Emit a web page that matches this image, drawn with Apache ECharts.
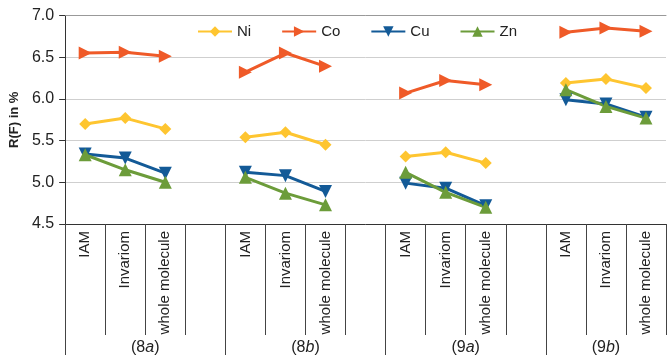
<!DOCTYPE html>
<html>
<head>
<meta charset="utf-8">
<script src="https://cdn.jsdelivr.net/npm/echarts@6/dist/echarts.min.js"></script>
<style>html,body{margin:0;padding:0;background:#fff;}#c{width:669px;height:359px;}</style>
</head>
<body>
<div id="c"></div>
<script>
const categories = ['IAM','Invariom','whole molecule','', 'IAM','Invariom','whole molecule','', 'IAM','Invariom','whole molecule','', 'IAM','Invariom','whole molecule'];
const groupLabels = ['8a','8b','9a','9b'];
const groupLabelPos = [4, 12, 20, 27]; // half-slot positions
const ni = [5.70, 5.77, 5.64, null, 5.54, 5.60, 5.45, null, 5.31, 5.36, 5.23, null, 6.19, 6.24, 6.13];
const co = [6.55, 6.56, 6.51, null, 6.32, 6.55, 6.39, null, 6.07, 6.22, 6.17, null, 6.80, 6.85, 6.81];
const cu = [5.34, 5.29, 5.11, null, 5.12, 5.08, 4.89, null, 4.99, 4.93, 4.72, null, 5.99, 5.94, 5.78];
const zn = [5.33, 5.15, 5.00, null, 5.06, 4.87, 4.73, null, 5.12, 4.88, 4.70, null, 6.11, 5.91, 5.77];
const yTicks = {min: 4.5, max: 7.0, interval: 0.5};

const halfSlots = [];
for (let i = 0; i <= 30; i++) {
  const g = groupLabelPos.indexOf(i);
  halfSlots.push(g >= 0 ? groupLabels[g] : '');
}

const font = 'Liberation Sans, Arial, sans-serif';
const chart = echarts.init(document.getElementById('c'), null, {renderer: 'canvas'});

function mk(name, data, color, symbol, rot, size) {
  return {
    name: name, type: 'line', data: data, xAxisIndex: 0, yAxisIndex: 0,
    symbol: symbol, symbolSize: size, symbolRotate: rot,
    connectNulls: false,
    lineStyle: {color: color, width: 3},
    itemStyle: {color: color},
    emphasis: {disabled: true},
    animation: false
  };
}

chart.setOption({
  animation: false,
  textStyle: {fontFamily: font},
  grid: {left: 64, right: -6, top: 15.5, bottom: 135, containLabel: false},
  legend: {
    left: 192, top: 19, itemWidth: 34, itemHeight: 13, itemGap: 30,
    textStyle: {fontSize: 15, color: '#222', fontFamily: font},
    data: ['Ni','Co','Cu','Zn']
  },
  xAxis: [
    {
      type: 'category', data: categories, position: 'bottom', boundaryGap: true,
      axisLine: {show: true, lineStyle: {color: '#333', width: 1}},
      axisTick: {show: true, interval: 0, length: 111, lineStyle: {color: '#444'}},
      axisLabel: {interval: 0, rotate: 90, margin: 7, fontSize: 15, color: '#222', fontFamily: font},
      splitLine: {show: false}
    },
    {
      type: 'category', data: halfSlots, position: 'bottom', boundaryGap: false,
      axisLine: {show: false},
      axisTick: {show: true, interval: function (i) { return i % 8 === 0; }, length: 131, lineStyle: {color: '#444'}},
      axisLabel: {
        interval: 0, margin: 116, fontSize: 16, color: '#222', fontFamily: font,
        formatter: function (v) { return v ? '(' + v[0] + '{i|' + v.slice(1) + '})' : ''; },
        rich: {i: {fontStyle: 'italic', fontSize: 16, color: '#222', fontFamily: font}}
      },
      splitLine: {show: false}
    },
    {
      type: 'category', data: categories, position: 'top',
      axisLine: {show: true, lineStyle: {color: '#999', width: 1}},
      axisTick: {show: false}, axisLabel: {show: false}, splitLine: {show: false}
    }
  ],
  yAxis: {
    type: 'value', min: yTicks.min, max: yTicks.max, interval: yTicks.interval,
    name: 'R(F) in %', nameLocation: 'middle', nameGap: 35,
    nameTextStyle: {fontSize: 13, fontWeight: 'bold', color: '#222', fontFamily: font},
    axisLine: {show: true, lineStyle: {color: '#333', width: 1}},
    axisTick: {show: true, length: 6, inside: false, lineStyle: {color: '#333'}},
    axisLabel: {fontSize: 16, color: '#222', margin: 11, fontFamily: font,
      formatter: function (v) { return v.toFixed(1); }},
    splitLine: {show: true, lineStyle: {color: '#cfcfcf', width: 1}}
  },
  series: [
    mk('Ni', ni, '#FEC530', 'diamond', 0, 12),
    mk('Co', co, '#EF5A28', 'triangle', -90, 13),
    mk('Cu', cu, '#135A97', 'triangle', 180, 13),
    mk('Zn', zn, '#6C9C3A', 'triangle', 0, 13)
  ]
});
</script>
</body>
</html>
